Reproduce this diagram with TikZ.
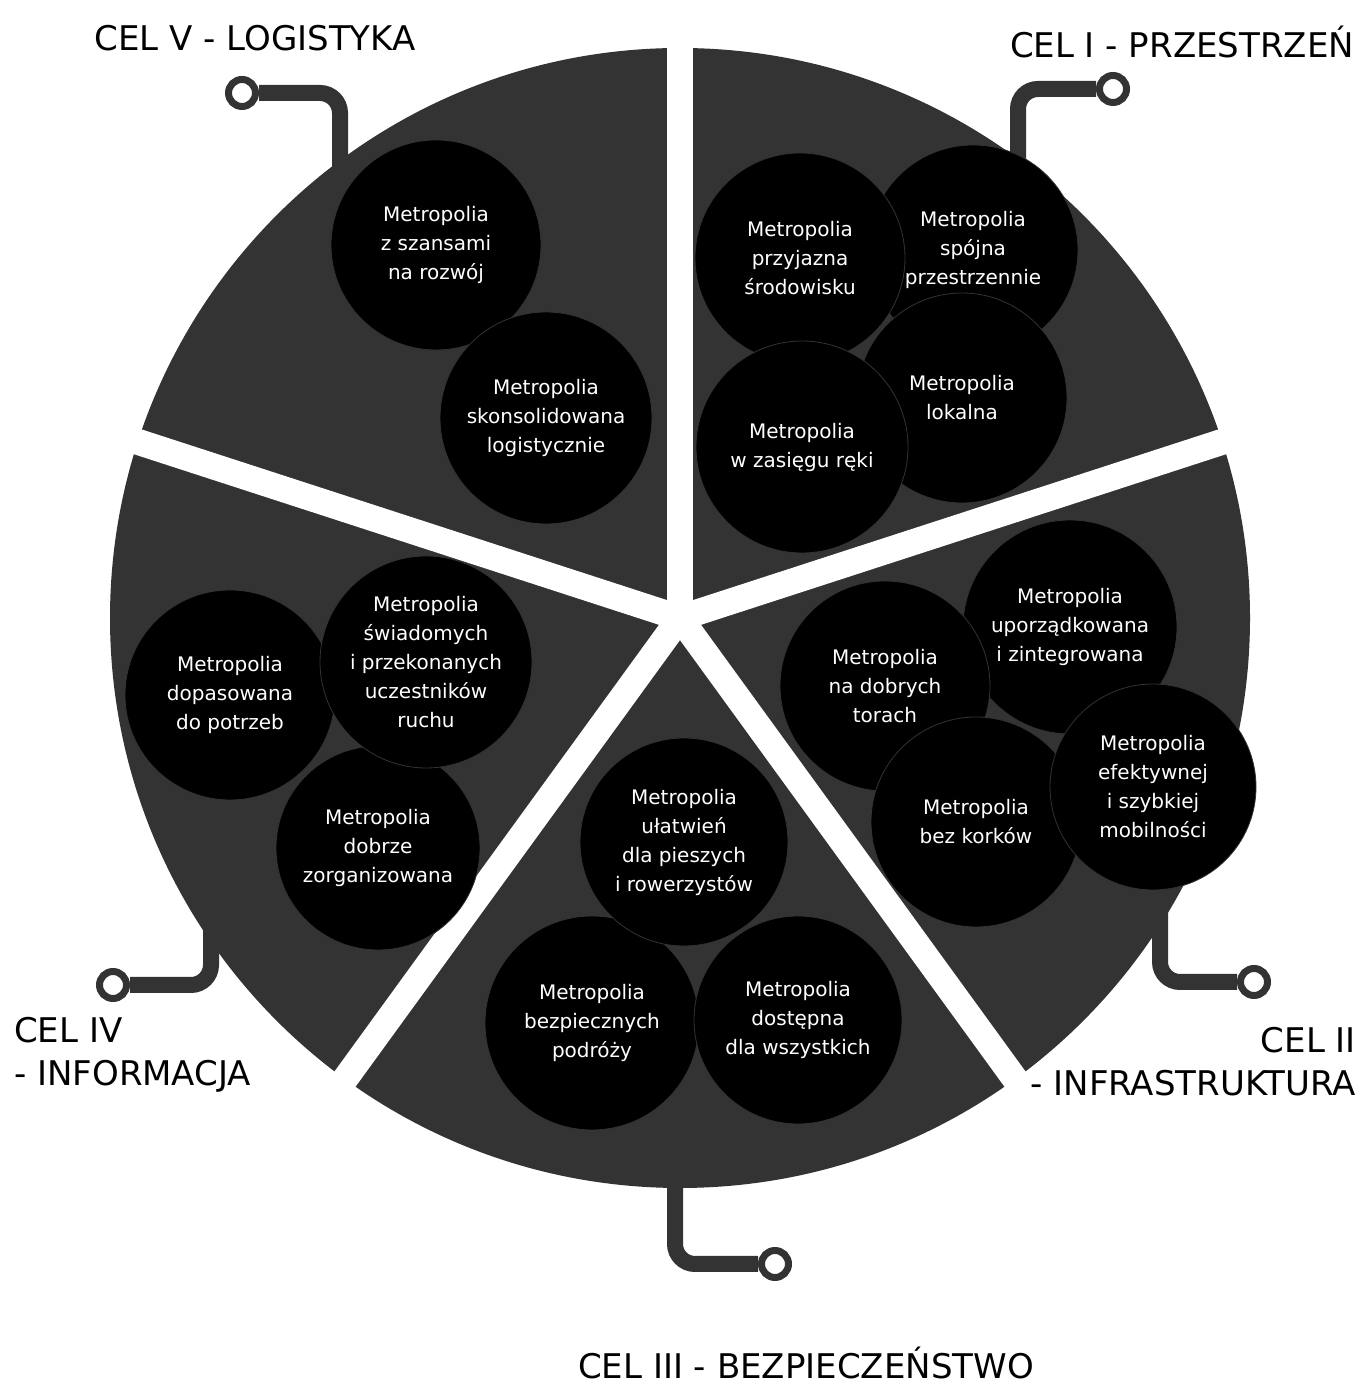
\documentclass[tikz,border=0pt]{standalone}
\usepackage{fontspec}
\setmainfont{DejaVu Sans}
\usetikzlibrary{positioning}
\definecolor{sectorgray}{HTML}{333333}

\begin{document}
\begin{tikzpicture}[
  x=1pt, y=1pt,
  bubble/.style={circle, fill=black, draw=black!80, line width=0.8pt,
                 minimum size=210pt, inner sep=0pt, text=white, align=center,
                 font=\fontsize{20}{29}\selectfont},
  ring/.style={circle, draw=sectorgray, line width=7pt, fill=white,
               minimum size=27pt, inner sep=0pt},
  link/.style={draw=sectorgray, line width=16pt, rounded corners=20pt},
  goal/.style={font=\fontsize{34}{43}\selectfont, inner sep=0pt}
]
  \useasboundingbox (0,0) rectangle (1361,1384);
  \coordinate (c) at (680,766);

  % connectors to the goal labels
  \coordinate (v-foot) at (340,1184);
  \coordinate (i-foot) at (1018,1184);
  \coordinate (ii-foot) at (1160,484);
  \coordinate (iii-foot) at (675,224);
  \coordinate (iv-foot) at (211,464);
  \node[ring] (v-ring) at (242,1291) {};
  \node[ring] (i-ring) at (1113,1295) {};
  \node[ring] (ii-ring) at (1254,402) {};
  \node[ring] (iii-ring) at (775,120) {};
  \node[ring] (iv-ring) at (113,399) {};
  \draw[link] (v-foot) |- (v-ring);
  \draw[link] (i-foot) |- (i-ring);
  \draw[link] (ii-foot) |- (ii-ring);
  \draw[link] (iii-foot) |- (iii-ring);
  \draw[link] (iv-foot) |- (iv-ring);

  % pie with five gaps
  \fill[sectorgray] (c) circle[radius=570];
  \foreach \a in {18,90,162,234,306}
    \draw[white, line width=26pt] (c) -- ++(\a:600);

  % CEL V
  \node[bubble] (szanse) at (436,1139) {Metropolia\\z szansami\\na rozwój};
  \node[bubble, minimum size=212pt] (logist) at (546,966)
    {Metropolia\\skonsolidowana\\logistycznie};
  % CEL I
  \node[bubble] (spojna) at (973,1134) {Metropolia\\spójna\\przestrzennie};
  \node[bubble] (przyjazna) at (800,1126) {Metropolia\\przyjazna\\środowisku};
  \node[bubble] (lokalna) at (962,986) {Metropolia\\lokalna};
  \node[bubble, minimum size=212pt] (zasieg) at (802,937)
    {Metropolia\\w zasięgu ręki};
  % CEL II
  \node[bubble, minimum size=214pt] (uporz) at (1070,757)
    {Metropolia\\uporządkowana\\i zintegrowana};
  \node[bubble] (tory) at (885,698) {Metropolia\\na dobrych\\torach};
  \node[bubble] (korki) at (976,562) {Metropolia\\bez korków};
  \node[bubble, minimum size=206pt] (mobil) at (1153,597)
    {Metropolia\\efektywnej\\i szybkiej\\mobilności};
  % CEL III
  \node[bubble, minimum size=214pt] (bezpiecz) at (592,361)
    {Metropolia\\bezpiecznych\\podróży};
  \node[bubble, minimum size=208pt] (dostepna) at (798,364)
    {Metropolia\\dostępna\\dla wszystkich};
  \node[bubble, minimum size=208pt] (piesi) at (684,542)
    {Metropolia\\ułatwień\\dla pieszych\\i rowerzystów};
  % CEL IV
  \node[bubble] (potrzeby) at (230,689) {Metropolia\\dopasowana\\do potrzeb};
  \node[bubble, minimum size=204pt] (organiz) at (378,536)
    {Metropolia\\dobrze\\zorganizowana};
  \node[bubble, minimum size=212pt] (swiadomi) at (426,722)
    {Metropolia\\świadomych\\i przekonanych\\uczestników\\ruchu};

  % goal labels
  \node[goal] (cel-v) at (255,1346) {CEL V - LOGISTYKA};
  \node[goal] (cel-i) at (1182,1342) {CEL I - PRZESTRZEŃ};
  \node[goal, anchor=east, align=right] (cel-ii) at (1356,322)
    {CEL II\\- INFRASTRUKTURA};
  \node[goal] (cel-iii) at (806,21) {CEL III - BEZPIECZEŃSTWO};
  \node[goal, anchor=west, align=left] (cel-iv) at (14,329)
    {CEL IV\\- INFORMACJA};
\end{tikzpicture}
\end{document}
